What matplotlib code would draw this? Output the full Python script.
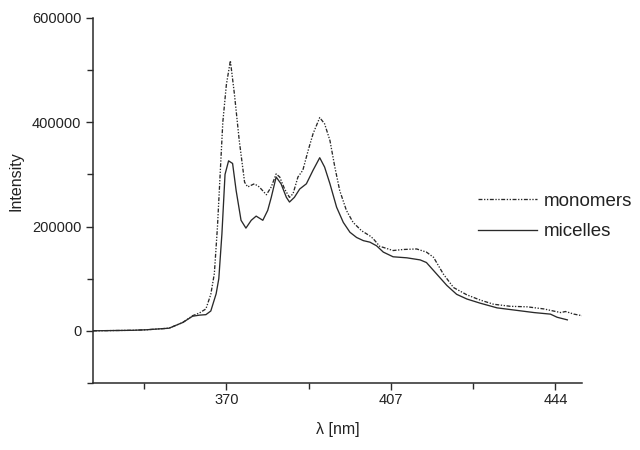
import matplotlib
matplotlib.use("Agg")
import matplotlib.pyplot as plt
from matplotlib.ticker import FixedLocator

plt.rcParams['font.family'] = ['Liberation Sans', 'DejaVu Sans']

mono_x = [340, 349, 352, 357.1, 360.2, 362.4, 363.9, 365.4, 366.5, 367.3, 368, 368.6, 369.2, 370,
          370.9, 371.8, 372.9, 374.1, 374.8, 376.3, 377.4, 379, 380.1, 381.2, 382, 383.1, 384.2,
          385, 386.1, 387.2, 388.4, 389.5, 391, 392.1, 393.3, 394.4, 395.5, 397, 398.5, 400.4,
          402.3, 403, 404.5, 405.3, 407.5, 409.8, 412.8, 415, 416.6, 418.8, 421.1, 424.1, 427.1,
          430.1, 433.9, 437.7, 441.4, 445.2, 446.3, 448.2, 450]
mono_y = [0, 1, 2, 5, 16, 29, 34, 42, 70, 110, 200, 300, 400, 472,
          518, 455, 365, 285, 276, 282, 276, 261, 276, 301, 295, 272, 256,
          263, 295, 308, 346, 378, 409, 397, 365, 314, 269, 231, 208, 192,
          182, 177, 162, 160, 154, 156, 157, 151, 141, 109, 83, 69, 59,
          51, 47, 46, 42, 35, 37, 32, 29]

mic_x = [340, 349, 352, 357.1, 360.2, 362.4, 363.9, 365.4, 366.5, 367.7, 368.3, 369, 369.7,
         370.5, 371.4, 372.2, 373.3, 374.4, 375.6, 376.7, 378.2, 379.3, 380.1, 381.2, 382.3,
         383.5, 384.2, 385.3, 386.5, 388, 389.5, 391, 392.1, 393.3, 394.8, 396.3, 397.8, 399.3,
         400.8, 402.3, 403.8, 405.3, 407.5, 410.6, 413.6, 415, 417.3, 419.6, 421.8, 424.1, 427.1,
         430.9, 434.6, 439.2, 442.9, 444.4, 446.7]
mic_y = [0, 1, 2, 5, 16, 28, 30, 31, 38, 71, 100, 186, 300,
         326, 321, 269, 212, 197, 212, 220, 212, 231, 256, 295, 282,
         256, 247, 256, 272, 282, 308, 332, 314, 282, 237, 208, 189, 179,
         173, 170, 163, 151, 142, 140, 136, 131, 109, 87, 70, 61, 53,
         44, 40, 35, 32, 26, 21]

x_major = [370, 407, 444]
x_minor = [351.5, 388.5, 425.5]
y_major = [0, 200000, 400000, 600000]
y_minor = [-100000, 100000, 300000, 500000]

fig = plt.figure(figsize=(6.4, 4.5), dpi=100)
ax = fig.add_axes([0.1453, 0.149, 0.7641, 0.811])

col = '#2a2a2a'
ax.plot(mono_x, [v * 1000 for v in mono_y], color=col, lw=0.95,
        dashes=(3, 1.2, 1, 1.2, 1, 1.2), label='monomers')
ax.plot(mic_x, [v * 1000 for v in mic_y], color=col, lw=0.95, label='micelles')

ax.set_xlim(340, 450)
ax.set_ylim(-100000, 600000)
ax.xaxis.set_major_locator(FixedLocator(x_major))
ax.xaxis.set_minor_locator(FixedLocator(x_minor))
ax.yaxis.set_major_locator(FixedLocator(y_major))
ax.yaxis.set_minor_locator(FixedLocator(y_minor))
ax.set_xticklabels([str(v) for v in x_major])
ax.set_yticklabels([str(v) for v in y_major])

for s in ['top', 'right']:
    ax.spines[s].set_visible(False)
for s in ['left', 'bottom']:
    ax.spines[s].set_linewidth(1.1)
    ax.spines[s].set_color(col)
ax.tick_params(which='both', direction='out', colors=col, width=1.0, labelsize=10.5,
               labelcolor='#222222')
ax.tick_params(which='major', length=5, pad=3.5)
ax.tick_params(axis='x', which='major', pad=2.5)
ax.tick_params(which='minor', length=4)

ax.set_xlabel('λ [nm]', fontsize=11.5, color='#222222')
ax.set_ylabel('Intensity', fontsize=11.5, color='#222222')
ax.xaxis.set_label_coords(0.5, -0.107)
ax.yaxis.set_label_coords(-0.143, 0.553)

leg = ax.legend(loc='center left', bbox_to_anchor=(0.787, 0.456), frameon=False,
                fontsize=13.5, handlelength=3.15, handletextpad=0.37, labelspacing=0.72,
                borderaxespad=0, borderpad=0)
for t in leg.get_texts():
    t.set_color('#222222')

fig.savefig('out.png', dpi=100)
